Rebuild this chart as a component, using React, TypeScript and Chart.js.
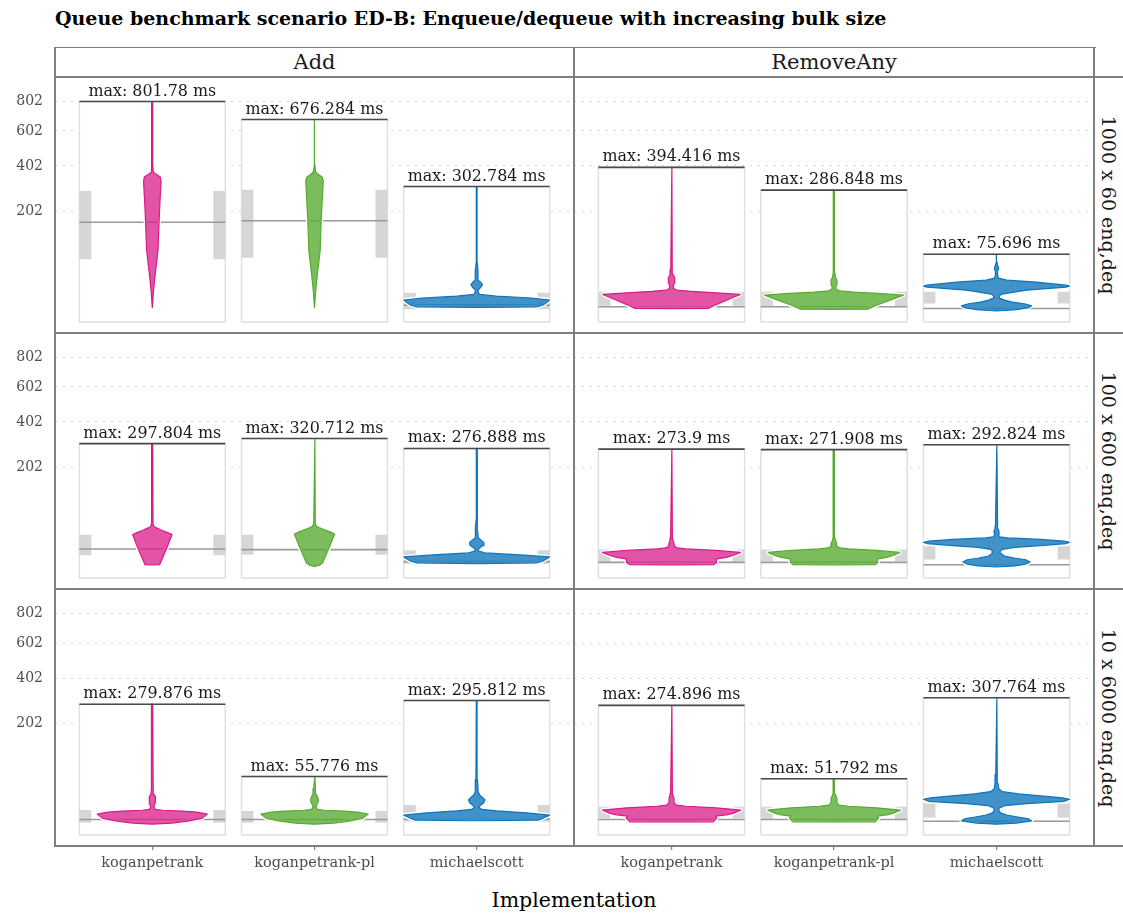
import React, { useEffect, useRef } from 'react';
import { Chart, registerables, LinearScale } from 'chart.js';

Chart.register(...registerables);

// ---------- data ----------
const WORKLOADS = ['1000 x 60 enq,deq', '100 x 600 enq,deq', '10 x 6000 enq,deq'];
const OPERATIONS = ['Add', 'RemoveAny'];
const IMPLEMENTATIONS = ['koganpetrank', 'koganpetrank-pl', 'michaelscott'];
const Y_TICKS = [202, 402, 602, 802];
const Y_LIMITS = [-2, 990];

// facet index = workload * 2 + operation ; values per implementation
const MAX_MS = [
  [801.78, 676.284, 302.784],
  [394.416, 286.848, 75.696],
  [297.804, 320.712, 276.888],
  [273.9, 271.908, 292.824],
  [279.876, 55.776, 295.812],
  [274.896, 51.792, 307.764],
];
const BAND_LOW_MS = [
  [65, 68, 2.7],
  [4.3, 4.1, 5.7],
  [8.5, 8.9, 3.4],
  [4.2, 4.6, 5.6],
  [2.4, 2.4, 2.8],
  [4.5, 4.2, 5.0],
];
const BAND_HIGH_MS = [
  [283, 288, 14],
  [15, 15, 15],
  [31, 31, 12.6],
  [13.3, 13.3, 16.5],
  [10.1, 9.3, 14.6],
  [13, 13, 16.3],
];
const MID_MS = [
  [164, 169, 4.7],
  [3.8, 3.8, 3.0],
  [13.9, 13.3, 4.4],
  [4.0, 4.0, 2.9],
  [3.9, 3.9, 4.0],
  [3.9, 3.9, 3.1],
];

// violin profiles: [ms, relative density width 0..100]
type Profile = [number, number][];
const DENSITY_1000x60_ADD: Profile[] = [
  [[3.2, 0], [16.7, 1.7], [39, 4.1], [85, 7.8], [164, 9.2], [246, 10.6], [325, 12], [347, 10.9], [362, 4.1], [372, 1.4], [407, 0.5], [801.78, 0.5]],
  [[3.2, 0], [16.7, 1.7], [39, 4.1], [85, 7.8], [169, 9.1], [246, 10.6], [325, 12], [345, 10.9], [362, 4.1], [373, 1.4], [407, 0.5], [676.284, 0.5]],
  [[3.5, 0], [3.8, 82], [5, 92], [7.9, 100], [9.5, 75], [11, 27], [12.5, 4], [14.7, 2], [17, 2], [19.5, 5.4], [23.3, 7.9], [26, 5.4], [28.9, 2], [44, 1.8], [60, 0.5], [302.784, 0.5]],
];
const DENSITY_1000x60_REMOVE: Profile[] = [
  [[2.95, 0], [3.0, 50], [5, 61], [8, 76], [12.5, 94], [14, 61], [15.5, 27], [16.8, 7], [18.6, 2.7], [22, 2.7], [25, 4], [28.9, 4.5], [33, 4], [37, 2], [45, 1], [394.416, 0.5]],
  [[2.65, 0], [2.7, 46], [4.6, 58], [7.5, 75], [11.9, 95], [13.5, 60], [14.8, 27], [16, 7], [18, 2.7], [21, 2.7], [23, 4], [25.3, 4.1], [29, 4], [33, 2], [42, 1], [286.848, 0.5]],
  [[2.0, 0], [2.5, 27], [3.4, 44], [4.3, 48], [5.5, 38], [6.7, 20], [7.9, 11], [9.4, 4], [11, 3.7], [12.8, 7], [16.7, 41], [20.1, 95], [21.2, 100], [22.4, 95], [26.3, 54], [28.9, 14], [31.8, 2.7], [36, 1.5], [42, 1.5], [47, 3], [53, 1.5], [60, 0.5], [75.696, 0.5]],
];
const DENSITY_100x600_ADD: Profile[] = [
  [[2.85, 0], [2.9, 10], [15, 20], [31, 27], [34, 21], [38, 12], [41, 6.5], [43, 2.7], [48, 1], [297.804, 0.5]],
  [[2.2, 0], [2.6, 6], [3.7, 11], [15, 20], [32, 27.6], [35, 21], [39, 12], [42, 6], [44, 2.7], [49, 1], [320.712, 0.5]],
  [[3.4, 0], [3.7, 82], [5, 92], [7.3, 100], [9, 54], [10.4, 11], [12, 2.7], [13.3, 2], [15, 4], [17.5, 9], [20.3, 10], [23, 7], [26.9, 2], [35, 1.6], [44, 1.6], [60, 0.5], [276.888, 0.5]],
];
const DENSITY_100x600_REMOVE: Profile[] = [
  [[2.85, 0], [2.9, 57], [4, 62], [5.2, 61], [6.0, 62], [7.0, 75], [8.5, 85], [10.8, 94.5], [12.5, 61], [14, 20], [14.9, 8], [16.5, 4], [20, 3.4], [24, 2], [27, 1.2], [273.9, 0.5]],
  [[2.85, 0], [2.9, 56], [4, 60], [5.2, 59], [6.0, 60], [7.0, 72], [8.5, 82], [10.8, 90], [12.5, 58], [14, 20], [14.9, 8], [16.5, 4], [20, 3.4], [24, 2], [27, 1.2], [271.908, 0.5]],
  [[2.0, 0], [2.4, 25], [3.2, 40], [4.2, 46], [5.5, 40], [6.6, 24], [8, 11], [10, 6], [11.7, 5], [13.5, 8], [15.5, 25], [17.3, 60], [19.5, 95], [21, 100], [22.5, 92], [24.5, 60], [26.5, 15], [28, 4], [31, 2.7], [36, 3.4], [40, 2], [44, 1.5], [292.824, 0.5]],
];
const DENSITY_10x6000_ADD: Profile[] = [
  [[1.9, 0], [2.3, 27], [3.1, 48], [4.5, 68], [7.1, 75.5], [8.5, 61], [9.3, 41], [10, 14], [10.7, 4], [13, 2], [15.6, 3.4], [18, 4.5], [20.8, 4.5], [24, 4], [27.4, 2], [35, 1.2], [279.876, 0.5]],
  [[1.9, 0], [2.3, 26], [3.1, 47], [4.5, 66], [7.1, 73.5], [8.5, 59], [9.3, 40], [10, 14], [10.7, 4], [13, 2], [15.6, 3.5], [18, 5], [20.8, 5.2], [24, 4], [27.4, 2], [35, 1.2], [55.776, 0.5]],
  [[3.3, 0], [3.6, 84], [4.8, 92], [6.4, 100], [8, 68], [9.5, 27], [10.7, 7], [12.5, 2.7], [14.5, 5.4], [17, 9.5], [20, 11.3], [23, 8], [26, 4], [30.6, 2], [38, 1.8], [50, 1], [295.812, 0.5]],
];
const DENSITY_10x6000_REMOVE: Profile[] = [
  [[2.75, 0], [2.8, 57], [4.6, 62], [5.8, 60], [6.6, 75], [7.6, 84], [10.1, 94.5], [12, 61], [13.5, 20], [14.6, 7], [17, 3.4], [22, 3.4], [26, 2], [28.4, 1.2], [274.896, 0.5]],
  [[2.75, 0], [2.8, 56], [4.6, 61], [5.8, 59], [6.6, 72], [7.6, 80], [10.1, 90.7], [12, 58], [13.5, 20], [14.6, 7], [17, 4], [22, 4], [26, 2], [28.4, 1.2], [51.792, 0.5]],
  [[1.9, 0], [2.3, 27], [3.2, 48], [4.2, 44], [5.4, 27], [6.5, 14], [8, 5.4], [10.1, 3], [12, 4], [14, 11], [16, 41], [18.5, 92], [20.8, 100], [22.5, 90], [25, 60], [27.5, 30], [30.6, 8], [35, 3], [43.8, 2], [60, 1], [307.764, 0.5]],
];
const DENSITY: Profile[][] = [
  DENSITY_1000x60_ADD, DENSITY_1000x60_REMOVE,
  DENSITY_100x600_ADD, DENSITY_100x600_REMOVE,
  DENSITY_10x6000_ADD, DENSITY_10x6000_REMOVE,
];

// ---------- styles ----------
const COLORS = [
  { line: '#d81b8a', fill: 'rgba(217, 27, 138, 0.75)' },
  { line: '#56ab2f', fill: 'rgba(86, 171, 47, 0.78)' },
  { line: '#0d73bb', fill: 'rgba(13, 115, 187, 0.78)' },
];
const HALF = 0.45;
const BAND_W = 0.074;
const FONT = '"DejaVu Serif", serif';
const PX = [55, 574, 1094];
const PY = [77, 333, 589, 846];
const X_AXIS_H = 34;
const LINE_C = '#7f7f7f';

// ---------- sqrt scale ----------
const sq = (v: number) => Math.sign(v) * Math.sqrt(Math.abs(v));
class SqrtScale extends LinearScale {
  static id = 'sqrt';
  static defaults = {};
  getPixelForValue(value: number) {
    const a = sq(this.min), b = sq(this.max);
    return this.getPixelForDecimal((sq(value) - a) / (b - a));
  }
  getValueForPixel(pixel: number) {
    const a = sq(this.min), b = sq(this.max);
    const s = a + this.getDecimalForPixel(pixel) * (b - a);
    return Math.sign(s) * s * s;
  }
}
Chart.register(SqrtScale as any);
Chart.defaults.font.family = FONT;

const rect = (x0: number, x1: number, y0: number, y1: number) => [
  { x: x0, y: y0 }, { x: x1, y: y0 }, { x: x1, y: y1 }, { x: x0, y: y1 }, { x: x0, y: y0 },
];
const violin = (c: number, prof: Profile) => {
  const right = prof.map(([v, w]) => ({ x: c + (w / 100) * HALF, y: v }));
  const left = prof.slice().reverse().map(([v, w]) => ({ x: c - (w / 100) * HALF, y: v }));
  return [...right, ...left, right[0]];
};

function buildConfig(w: number, o: number): any {
  const f = w * 2 + o;
  const base = { pointRadius: 0, pointHoverRadius: 0, tension: 0, borderJoinStyle: 'round', borderCapStyle: 'butt' };
  const datasets: any[] = [];
  IMPLEMENTATIONS.forEach((_, i) => {
    const c = i + 1;
    const max = MAX_MS[f][i];
    const lo = BAND_LOW_MS[f][i], hi = BAND_HIGH_MS[f][i], mid = MID_MS[f][i];
    datasets.push({ ...base, data: rect(c - HALF, c + HALF, 0, max), backgroundColor: '#ffffff', borderColor: '#e0e0e0', borderWidth: 1.5, fill: 'shape', order: 6 });
    datasets.push({ ...base, data: rect(c - HALF, c - HALF + BAND_W, lo, hi), backgroundColor: '#d6d6d6', borderWidth: 0, fill: 'shape', order: 5 });
    datasets.push({ ...base, data: rect(c + HALF - BAND_W, c + HALF, lo, hi), backgroundColor: '#d6d6d6', borderWidth: 0, fill: 'shape', order: 5 });
    datasets.push({ ...base, data: [{ x: c - HALF, y: mid }, { x: c + HALF, y: mid }], borderColor: '#9a9a9a', borderWidth: 1.6, fill: false, order: 4 });
    const v = violin(c, DENSITY[f][i]);
    datasets.push({ ...base, data: v, borderColor: '#ffffff', borderWidth: 4, fill: false, order: 3 });
    datasets.push({ ...base, data: v, borderColor: COLORS[i].line, backgroundColor: COLORS[i].fill, borderWidth: 1.2, fill: 'shape', order: 2 });
    datasets.push({ ...base, data: [{ x: c - HALF, y: max }, { x: c + HALF, y: max }], borderColor: '#4a4a4a', borderWidth: 1.6, fill: false, order: 1 });
  });
  const leftCol = o === 0;
  const bottomRow = w === 2;
  return {
    type: 'line',
    data: { datasets },
    options: {
      animation: false,
      responsive: false,
      events: [],
      layout: { padding: 0 },
      plugins: { legend: { display: false }, tooltip: { enabled: false } },
      scales: {
        x: {
          type: 'linear',
          min: 0.4,
          max: 3.6,
          bounds: 'data',
          display: bottomRow,
          afterBuildTicks: (s: any) => { s.ticks = IMPLEMENTATIONS.map((_, i) => ({ value: i + 1 })); },
          afterFit: (s: any) => { s.height = bottomRow ? X_AXIS_H : 0; s.paddingLeft = 0; s.paddingRight = 0; },
          ticks: {
            callback: (v: number) => IMPLEMENTATIONS[Math.round(v) - 1] ?? '',
            color: '#4d4d4d',
            font: { family: FONT, size: 14.5 },
            padding: 5,
            maxRotation: 0,
            autoSkip: false,
          },
          grid: { display: true, drawOnChartArea: false, drawTicks: true, tickLength: 4, color: LINE_C, lineWidth: 1.2 },
          border: { display: false },
        },
        y: {
          type: 'sqrt',
          min: Y_LIMITS[0],
          max: Y_LIMITS[1],
          bounds: 'data',
          afterBuildTicks: (s: any) => { s.ticks = Y_TICKS.map((v) => ({ value: v })); },
          afterFit: (s: any) => { s.width = leftCol ? PX[0] : 0; s.paddingTop = 0; s.paddingBottom = 0; },
          ticks: {
            display: leftCol,
            callback: (v: number) => String(v),
            color: '#4d4d4d',
            font: { family: FONT, size: 14 },
            padding: 12,
          },
          grid: { color: '#d4d4d4', lineWidth: 1.1, drawTicks: false },
          border: { display: false, dash: [2, 6] },
        },
      },
    },
    plugins: [
      {
        id: 'maxLabels',
        afterDatasetsDraw(chart: any) {
          const { ctx, scales } = chart;
          ctx.save();
          ctx.font = `15.9px ${FONT}`;
          ctx.fillStyle = '#1a1a1a';
          ctx.textAlign = 'center';
          ctx.textBaseline = 'alphabetic';
          IMPLEMENTATIONS.forEach((_, i) => {
            const max = MAX_MS[f][i];
            const x = scales.x.getPixelForValue(i + 1);
            const y = scales.y.getPixelForValue(max);
            ctx.fillText(`max: ${max} ms`, x, y - 6);
          });
          ctx.restore();
        },
      },
    ],
  };
}

function Line({ x, y, w, h }: { x: number; y: number; w: number; h: number }) {
  return <div style={{ position: 'absolute', left: x, top: y, width: w, height: h, background: LINE_C }} />;
}

export default function App() {
  const refs = useRef<(HTMLCanvasElement | null)[]>([]);
  useEffect(() => {
    const charts: Chart[] = [];
    for (let w = 0; w < 3; w++) {
      for (let o = 0; o < 2; o++) {
        const cv = refs.current[w * 2 + o];
        if (cv) charts.push(new Chart(cv, buildConfig(w, o)));
      }
    }
    return () => charts.forEach((c) => c.destroy());
  }, []);

  const canvases: React.ReactNode[] = [];
  for (let w = 0; w < 3; w++) {
    for (let o = 0; o < 2; o++) {
      const left = o === 0 ? 0 : PX[1];
      const width = o === 0 ? PX[1] : PX[2] - PX[1];
      const top = PY[w];
      const height = PY[w + 1] - PY[w] + (w === 2 ? X_AXIS_H : 0);
      canvases.push(
        <canvas
          key={`${w}-${o}`}
          ref={(el) => { refs.current[w * 2 + o] = el; }}
          width={width}
          height={height}
          style={{ position: 'absolute', left, top, width, height }}
        />
      );
    }
  }

  return (
    <div style={{ position: 'absolute', left: 0, top: 0, width: 1123, height: 913, background: '#fff', overflow: 'hidden', fontFamily: FONT }}>
      <div style={{ position: 'absolute', left: 55, top: 6, fontSize: 19, fontWeight: 'bold', lineHeight: '24px', color: '#000', whiteSpace: 'nowrap' }}>
        Queue benchmark scenario ED-B: Enqueue/dequeue with increasing bulk size
      </div>
      {canvases}
      {OPERATIONS.map((op, o) => (
        <div key={op} style={{ position: 'absolute', left: PX[o], top: 47, width: PX[o + 1] - PX[o], height: 30, lineHeight: '30px', textAlign: 'center', fontSize: 21, color: '#1a1a1a' }}>
          {op}
        </div>
      ))}
      {WORKLOADS.map((wl, w) => {
        const cy = (PY[w] + PY[w + 1]) / 2;
        return (
          <div key={wl} style={{ position: 'absolute', left: 1108.5 - 130, top: cy - 12, width: 260, height: 24, lineHeight: '24px', textAlign: 'center', fontSize: 19, color: '#1a1a1a', transform: 'rotate(90deg)', whiteSpace: 'nowrap' }}>
            {wl}
          </div>
        );
      })}
      <div style={{ position: 'absolute', left: 274, top: 886, width: 600, textAlign: 'center', fontSize: 20.5, lineHeight: '28px', color: '#000' }}>
        Implementation
      </div>
      {/* panel and strip borders */}
      <Line x={PX[0]} y={46.5} w={PX[2] - PX[0] + 1.5} h={1.5} />
      {PY.map((y) => <Line key={y} x={PX[0]} y={y - 0.75} w={1123 - PX[0]} h={1.5} />)}
      {PX.map((x) => <Line key={x} x={x - 0.75} y={46.5} w={1.5} h={PY[3] - 46.5 + 0.75} />)}
    </div>
  );
}
